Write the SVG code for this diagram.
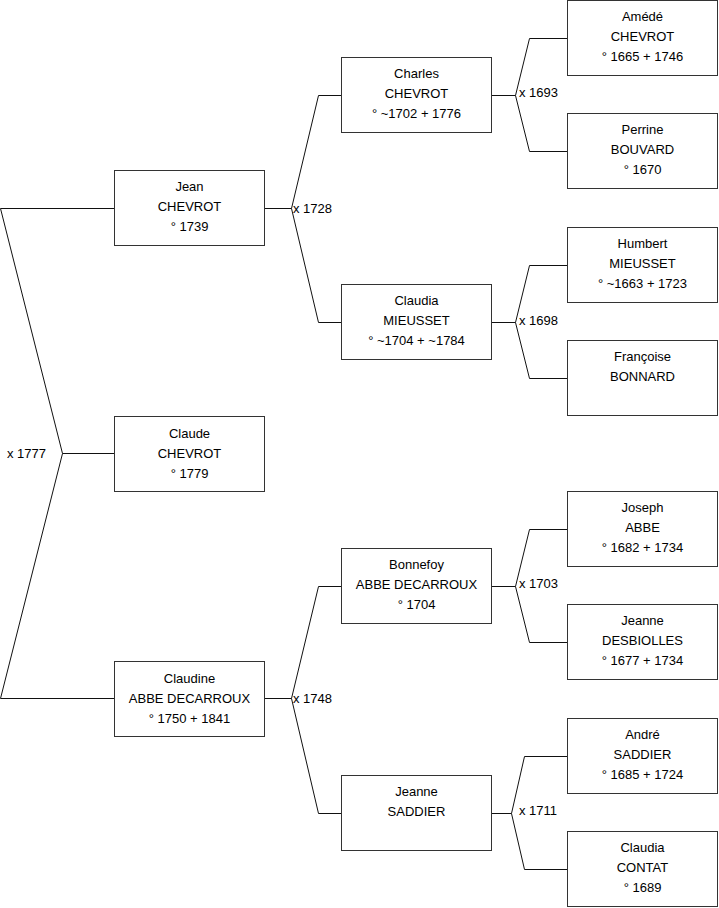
<svg xmlns="http://www.w3.org/2000/svg" width="719" height="908" viewBox="0 0 719 908">
<style>
.box{fill:#fff;stroke:#333;stroke-width:1}
.ln{fill:none;stroke:#111;stroke-width:1}
text{font-family:"Liberation Sans",Arial,sans-serif;font-size:13px;fill:#000}
.c{text-anchor:middle}
</style>
<rect width="719" height="908" fill="#fff"/>
<g id="connectors">
<polyline class="ln" points="114,208.5 0.5,208.5 62.5,453.5 0.5,698.5 114,698.5"/>
<line class="ln" x1="62.5" y1="453.5" x2="114" y2="453.5"/>
<polyline class="ln" points="265,208.5 291.5,208.5"/>
<polyline class="ln" points="341,95.5 318.5,95.5 291.5,208.5 318.5,322.5 341,322.5"/>
<polyline class="ln" points="265,698.5 291.5,698.5"/>
<polyline class="ln" points="341,586.5 318.5,586.5 291.5,698.5 318.5,813.5 341,813.5"/>
<polyline class="ln" points="492,95.5 515.5,95.5"/>
<polyline class="ln" points="567,38.5 529.5,38.5 515.5,95.5 529.5,151.5 567,151.5"/>
<polyline class="ln" points="492,322.5 515.5,322.5"/>
<polyline class="ln" points="567,265.5 529.5,265.5 515.5,322.5 529.5,378.5 567,378.5"/>
<polyline class="ln" points="492,586.5 515.5,586.5"/>
<polyline class="ln" points="567,529.5 529.5,529.5 515.5,586.5 529.5,642.5 567,642.5"/>
<polyline class="ln" points="492,813.5 511.5,813.5"/>
<polyline class="ln" points="567,756.5 524.5,756.5 511.5,813.5 524.5,869.5 567,869.5"/>
<text x="7" y="458">x 1777</text>
<text x="293" y="213">x 1728</text>
<text x="293" y="703">x 1748</text>
<text x="519" y="97">x 1693</text>
<text x="519" y="325">x 1698</text>
<text x="519" y="588">x 1703</text>
<text x="519" y="815">x 1711</text>
</g>
<g id="jean"><rect class="box" x="114.5" y="170.5" width="150" height="75"/>
<text class="c" x="189.5" y="191">Jean</text><text class="c" x="189.5" y="211">CHEVROT</text><text class="c" x="189.5" y="231">° 1739</text></g>
<g id="claude"><rect class="box" x="114.5" y="416.5" width="150" height="75"/>
<text class="c" x="189.5" y="438">Claude</text><text class="c" x="189.5" y="458">CHEVROT</text><text class="c" x="189.5" y="478">° 1779</text></g>
<g id="claudine"><rect class="box" x="114.5" y="661.5" width="150" height="75"/>
<text class="c" x="189.5" y="683">Claudine</text><text class="c" x="189.5" y="703">ABBE DECARROUX</text><text class="c" x="189.5" y="723">° 1750 + 1841</text></g>
<g id="charles"><rect class="box" x="341.5" y="57.5" width="150" height="75"/>
<text class="c" x="416.5" y="78">Charles</text><text class="c" x="416.5" y="98">CHEVROT</text><text class="c" x="416.5" y="118">° ~1702 + 1776</text></g>
<g id="claudia-mieusset"><rect class="box" x="341.5" y="284.5" width="150" height="75"/>
<text class="c" x="416.5" y="305">Claudia</text><text class="c" x="416.5" y="325">MIEUSSET</text><text class="c" x="416.5" y="345">° ~1704 + ~1784</text></g>
<g id="bonnefoy"><rect class="box" x="341.5" y="548.5" width="150" height="75"/>
<text class="c" x="416.5" y="569">Bonnefoy</text><text class="c" x="416.5" y="589">ABBE DECARROUX</text><text class="c" x="416.5" y="609">° 1704</text></g>
<g id="jeanne-saddier"><rect class="box" x="341.5" y="775.5" width="150" height="75"/>
<text class="c" x="416.5" y="796">Jeanne</text><text class="c" x="416.5" y="816">SADDIER</text></g>
<g id="amede"><rect class="box" x="567.5" y="0.5" width="150" height="75"/>
<text class="c" x="642.5" y="21">Amédé</text><text class="c" x="642.5" y="41">CHEVROT</text><text class="c" x="642.5" y="61">° 1665 + 1746</text></g>
<g id="perrine"><rect class="box" x="567.5" y="113.5" width="150" height="75"/>
<text class="c" x="642.5" y="134">Perrine</text><text class="c" x="642.5" y="154">BOUVARD</text><text class="c" x="642.5" y="174">° 1670</text></g>
<g id="humbert"><rect class="box" x="567.5" y="227.5" width="150" height="75"/>
<text class="c" x="642.5" y="248">Humbert</text><text class="c" x="642.5" y="268">MIEUSSET</text><text class="c" x="642.5" y="288">° ~1663 + 1723</text></g>
<g id="francoise"><rect class="box" x="567.5" y="340.5" width="150" height="75"/>
<text class="c" x="642.5" y="361">Françoise</text><text class="c" x="642.5" y="381">BONNARD</text></g>
<g id="joseph"><rect class="box" x="567.5" y="491.5" width="150" height="75"/>
<text class="c" x="642.5" y="512">Joseph</text><text class="c" x="642.5" y="532">ABBE</text><text class="c" x="642.5" y="552">° 1682 + 1734</text></g>
<g id="jeanne-desbiolles"><rect class="box" x="567.5" y="604.5" width="150" height="75"/>
<text class="c" x="642.5" y="625">Jeanne</text><text class="c" x="642.5" y="645">DESBIOLLES</text><text class="c" x="642.5" y="665">° 1677 + 1734</text></g>
<g id="andre"><rect class="box" x="567.5" y="718.5" width="150" height="75"/>
<text class="c" x="642.5" y="739">André</text><text class="c" x="642.5" y="759">SADDIER</text><text class="c" x="642.5" y="779">° 1685 + 1724</text></g>
<g id="claudia-contat"><rect class="box" x="567.5" y="831.5" width="150" height="75"/>
<text class="c" x="642.5" y="852">Claudia</text><text class="c" x="642.5" y="872">CONTAT</text><text class="c" x="642.5" y="892">° 1689</text></g>
</svg>
